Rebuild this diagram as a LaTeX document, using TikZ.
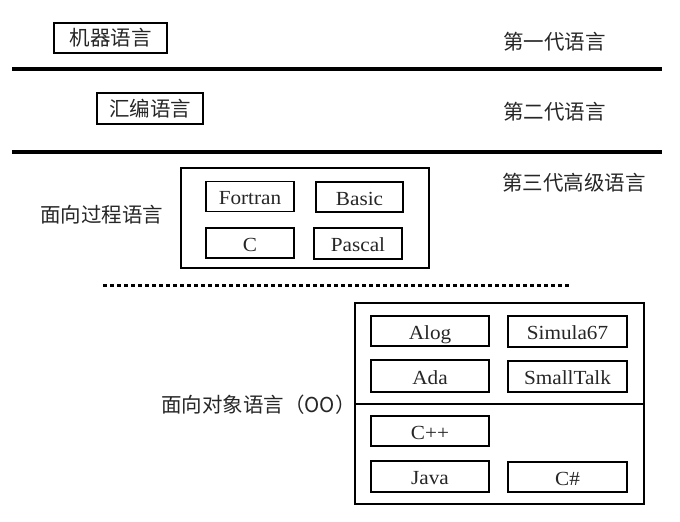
\documentclass[tikz,border=0pt]{standalone}
\usepackage{fontspec}
\setmainfont{Liberation Serif}[FakeStretch=1.06]
\newfontfamily\cjk{Noto Sans CJK SC}
\begin{document}
\begin{tikzpicture}[x=1pt,y=-1pt,
  lbox/.style={draw=black, line width=1.1pt, inner sep=0pt, text height=16.5pt, text depth=0pt, font=\fontsize{20}{22}\selectfont, text=black!85},
  cbox/.style={draw=black, line width=1.1pt, inner sep=0pt, font=\cjk\fontsize{20.5}{22}\selectfont, text=black!85},
  clabel/.style={anchor=west, inner sep=0pt, font=\cjk\fontsize{20.5}{22}\selectfont, text=black!85},
  frame/.style={draw=black, line width=1.1pt, inner sep=0pt},
  sep/.style={line width=3.6pt}
]
\useasboundingbox (0,0) rectangle (680,522);
% generation 1
\node[cbox, minimum width=113pt, minimum height=30pt] (mach) at (110.5,38) {机器语言};
\node[clabel] (g1) at (503,42) {第一代语言};
\coordinate (l1a) at (12,69);
\coordinate (l1b) at (662,69);
\draw[sep] (l1a) -- (l1b);
% generation 2
\node[cbox, minimum width=106pt, minimum height=31pt] (asm) at (150,108.5) {汇编语言};
\node[clabel] (g2) at (503,112) {第二代语言};
\coordinate (l2a) at (12,152);
\coordinate (l2b) at (662,152);
\draw[sep] (l2a) -- (l2b);
% generation 3
\node[clabel] (g3) at (502,183) {第三代高级语言};
\node[frame, minimum width=248pt, minimum height=100pt] (proc) at (305,218) {};
\node[clabel] (proclbl) at (40,215) {面向过程语言};
\node[lbox, minimum width=88pt, minimum height=30pt] (fortran) at (250,196.5) {Fortran};
\node[lbox, minimum width=87pt, minimum height=30pt] (basic) at (359.5,197) {Basic};
\node[lbox, minimum width=88pt, minimum height=30pt] (c) at (250,243) {C};
\node[lbox, minimum width=88pt, minimum height=31pt] (pascal) at (358,243.5) {Pascal};
% dotted separator
\coordinate (d1) at (103,285);
\coordinate (d2) at (571,285);
\draw[line width=3pt, dash pattern=on 4pt off 3pt] (d1) -- (d2);
% object oriented
\node[frame, minimum width=289pt, minimum height=201pt] (oo) at (499.5,403.5) {};
\coordinate (dv1) at (355,404);
\coordinate (dv2) at (644,404);
\draw[line width=1.1pt] (dv1) -- (dv2);
\node[clabel] (oolbl) at (161,405) {面向对象语言（OO）};
\node[lbox, minimum width=118pt, minimum height=30pt] (alog) at (430,331) {Alog};
\node[lbox, minimum width=119pt, minimum height=31pt] (simula) at (567.5,331.5) {Simula67};
\node[lbox, minimum width=118pt, minimum height=32pt] (ada) at (430,376) {Ada};
\node[lbox, minimum width=119pt, minimum height=31pt] (small) at (567.5,376.5) {SmallTalk};
\node[lbox, minimum width=118pt, minimum height=30pt] (cpp) at (430,431) {C++};
\node[lbox, minimum width=118pt, minimum height=31pt] (java) at (430,476.5) {Java};
\node[lbox, minimum width=119pt, minimum height=30pt] (cs) at (567.5,477) {C\#};
\end{tikzpicture}
\end{document}
